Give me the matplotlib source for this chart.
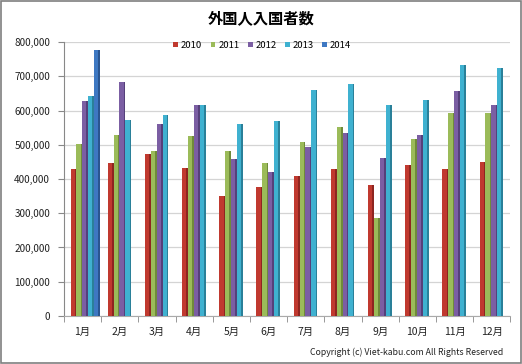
import matplotlib
matplotlib.use("Agg")
import matplotlib.pyplot as plt
from matplotlib.patches import Rectangle
import numpy as np

plt.rcParams['font.family'] = ['Noto Sans CJK JP', 'DejaVu Sans']

months = ["1月", "2月", "3月", "4月", "5月", "6月", "7月", "8月", "9月", "10月", "11月", "12月"]
years = ["2010", "2011", "2012", "2013", "2014"]
v2010 = [428000, 446000, 472000, 432000, 351000, 376000, 408000, 430000, 383000, 440000, 429000, 450000]
v2011 = [503000, 528000, 481000, 526000, 482000, 448000, 509000, 553000, 285000, 518000, 592000, 594000]
v2012 = [629000, 683000, 561000, 617000, 458000, 421000, 494000, 534000, 460000, 528000, 657000, 617000]
v2013 = [642000, 571000, 588000, 615000, 560000, 568000, 659000, 678000, 616000, 630000, 732000, 724000]
v2014 = [777000, None, None, None, None, None, None, None, None, None, None, None]
series = [v2010, v2011, v2012, v2013, v2014]
colors = ["#C0392F", "#9BBB59", "#7B5EA3", "#3FB1D0", "#3E78C2"]
dark = ["#8E2520", "#6F8A3A", "#55407A", "#2A8099", "#2A5590"]
yticks = [0, 100000, 200000, 300000, 400000, 500000, 600000, 700000, 800000]

fig = plt.figure(figsize=(5.22, 3.64), dpi=100)
fig.patch.set_facecolor("white")
fig.add_artist(Rectangle((0.001, 0.002), 0.997, 0.995, transform=fig.transFigure,
                         fill=False, edgecolor="#7f7f7f", linewidth=1.2))

ax = fig.add_axes([0.1226, 0.1319, 0.855, 0.7527])
x = np.arange(len(months))
w = 0.158
offsets = (np.arange(5) - 2) * w + 0.07
for i, (s, c, d) in enumerate(zip(series, colors, dark)):
    vals = np.array([np.nan if v is None else v for v in s], dtype=float)
    ax.bar(x + offsets[i], vals, width=w, color=c, linewidth=0, zorder=3, label=years[i])
    ax.bar(x + offsets[i] + w * 0.36, vals, width=w * 0.28, color=d, linewidth=0, zorder=4)

ax.set_xlim(-0.5, 11.5)
ax.set_ylim(0, 800000)
ax.set_yticks(yticks)
ax.set_yticklabels([f"{t:,}" for t in yticks], fontsize=7.2, color="#222222")
ax.set_xticks(x)
ax.set_xticklabels(months, fontsize=7.5, color="#222222")
ax.tick_params(axis='x', length=0, pad=8)
ax.set_xticks(np.arange(-0.5, 12, 1), minor=True)
ax.tick_params(axis='x', which='minor', length=4, color="#888888")
ax.tick_params(axis='y', length=4, color="#888888", pad=6)
ax.grid(axis='y', color="#d4d4d4", linewidth=0.9, zorder=0)
for sp in ["top", "right"]:
    ax.spines[sp].set_visible(False)
ax.spines["left"].set_color("#888888")
ax.spines["bottom"].set_color("#aaaaaa")

leg = ax.legend(loc="upper center", bbox_to_anchor=(0.444, 1.035), ncol=5, frameon=False,
                fontsize=6.8, handlelength=0.5, handleheight=0.5, columnspacing=0.9,
                handletextpad=0.3)

fig.text(0.5, 0.95, "外国人入国者数", ha="center", va="center", fontsize=11, fontweight="bold")
fig.text(0.965, 0.033, "Copyright (c) Viet-kabu.com All Rights Reserved", ha="right",
         va="center", fontsize=6.3, color="#222222")

fig.savefig("out.png", dpi=100)
